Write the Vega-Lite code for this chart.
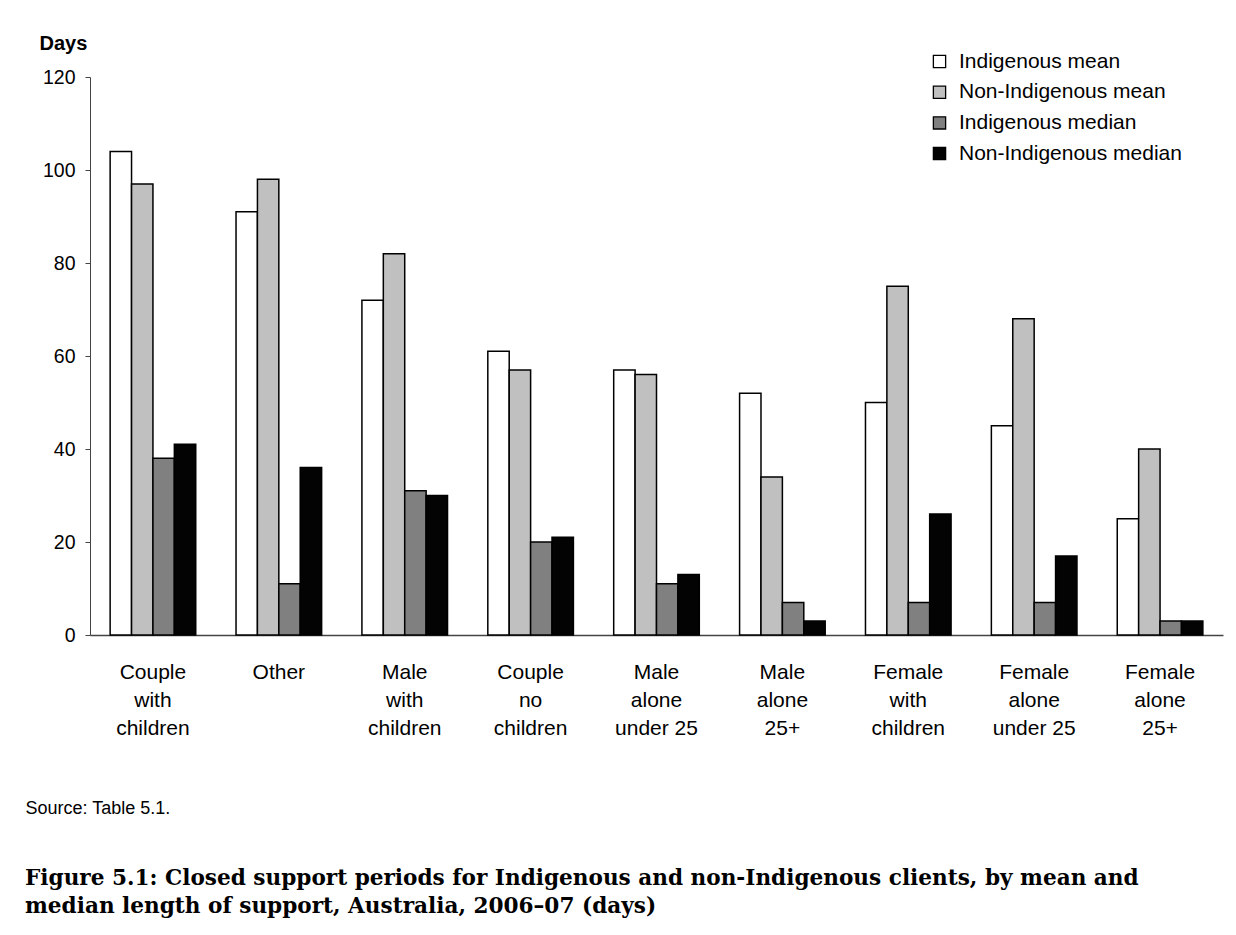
{
  "$schema": "https://vega.github.io/schema/vega-lite/v6.json",
  "width": 1133,
  "height": 558,
  "autosize": {"type": "none"},
  "padding": {"left": 90, "top": 77, "right": 13, "bottom": 300},
  "background": "white",
  "title": {
    "text": ["Figure 5.1: Closed support periods for Indigenous and non-Indigenous clients, by mean and", "median length of support, Australia, 2006–07 (days)"],
    "orient": "bottom",
    "anchor": "start",
    "frame": "group",
    "dx": -65,
    "offset": 51,
    "font": "DejaVu Serif",
    "fontSize": 21.6,
    "fontWeight": "bold",
    "color": "black",
    "lineHeight": 28
  },
  "data": {
    "values": [
      {"category": "Couple|with|children", "series": "Indigenous mean", "value": 104},
      {"category": "Couple|with|children", "series": "Non-Indigenous mean", "value": 97},
      {"category": "Couple|with|children", "series": "Indigenous median", "value": 38},
      {"category": "Couple|with|children", "series": "Non-Indigenous median", "value": 41},
      {"category": "Other", "series": "Indigenous mean", "value": 91},
      {"category": "Other", "series": "Non-Indigenous mean", "value": 98},
      {"category": "Other", "series": "Indigenous median", "value": 11},
      {"category": "Other", "series": "Non-Indigenous median", "value": 36},
      {"category": "Male|with|children", "series": "Indigenous mean", "value": 72},
      {"category": "Male|with|children", "series": "Non-Indigenous mean", "value": 82},
      {"category": "Male|with|children", "series": "Indigenous median", "value": 31},
      {"category": "Male|with|children", "series": "Non-Indigenous median", "value": 30},
      {"category": "Couple|no|children", "series": "Indigenous mean", "value": 61},
      {"category": "Couple|no|children", "series": "Non-Indigenous mean", "value": 57},
      {"category": "Couple|no|children", "series": "Indigenous median", "value": 20},
      {"category": "Couple|no|children", "series": "Non-Indigenous median", "value": 21},
      {"category": "Male|alone|under 25", "series": "Indigenous mean", "value": 57},
      {"category": "Male|alone|under 25", "series": "Non-Indigenous mean", "value": 56},
      {"category": "Male|alone|under 25", "series": "Indigenous median", "value": 11},
      {"category": "Male|alone|under 25", "series": "Non-Indigenous median", "value": 13},
      {"category": "Male|alone|25+", "series": "Indigenous mean", "value": 52},
      {"category": "Male|alone|25+", "series": "Non-Indigenous mean", "value": 34},
      {"category": "Male|alone|25+", "series": "Indigenous median", "value": 7},
      {"category": "Male|alone|25+", "series": "Non-Indigenous median", "value": 3},
      {"category": "Female|with|children", "series": "Indigenous mean", "value": 50},
      {"category": "Female|with|children", "series": "Non-Indigenous mean", "value": 75},
      {"category": "Female|with|children", "series": "Indigenous median", "value": 7},
      {"category": "Female|with|children", "series": "Non-Indigenous median", "value": 26},
      {"category": "Female|alone|under 25", "series": "Indigenous mean", "value": 45},
      {"category": "Female|alone|under 25", "series": "Non-Indigenous mean", "value": 68},
      {"category": "Female|alone|under 25", "series": "Indigenous median", "value": 7},
      {"category": "Female|alone|under 25", "series": "Non-Indigenous median", "value": 17},
      {"category": "Female|alone|25+", "series": "Indigenous mean", "value": 25},
      {"category": "Female|alone|25+", "series": "Non-Indigenous mean", "value": 40},
      {"category": "Female|alone|25+", "series": "Indigenous median", "value": 3},
      {"category": "Female|alone|25+", "series": "Non-Indigenous median", "value": 3}
    ]
  },
  "mark": {"type": "bar", "stroke": "black", "strokeWidth": 1.5},
  "encoding": {
    "x": {
      "field": "category",
      "type": "nominal",
      "sort": null,
      "scale": {"paddingInner": 0.32, "paddingOuter": 0.16},
      "axis": {
        "labelExpr": "split(datum.label, '|')",
        "labelAngle": 0,
        "labelFont": "Liberation Sans",
        "labelFontSize": 21,
        "labelColor": "black",
        "labelLineHeight": 28,
        "labelPadding": 37,
        "labelBaseline": "middle",
        "ticks": false,
        "domainColor": "#444444",
        "domainWidth": 1.5,
        "title": "Source: Table 5.1.",
        "titleFont": "Liberation Sans",
        "titleFontSize": 18,
        "titleFontWeight": "normal",
        "titleColor": "black",
        "titleAnchor": "start",
        "titleAlign": "left",
        "titleBaseline": "middle",
        "titleX": -65,
        "titleY": 173
      }
    },
    "xOffset": {
      "field": "series",
      "type": "nominal",
      "sort": ["Indigenous mean", "Non-Indigenous mean", "Indigenous median", "Non-Indigenous median"]
    },
    "y": {
      "field": "value",
      "type": "quantitative",
      "scale": {"domain": [0, 120]},
      "axis": {
        "values": [0, 20, 40, 60, 80, 100, 120],
        "grid": false,
        "tickSize": 5,
        "tickColor": "#444444",
        "domainColor": "#444444",
        "labelPadding": 10,
        "labelFont": "Liberation Sans",
        "labelFontSize": 19.5,
        "labelColor": "black",
        "title": "Days",
        "titleAngle": 0,
        "titleFont": "Liberation Sans",
        "titleFontSize": 20,
        "titleFontWeight": "bold",
        "titleColor": "black",
        "titleAlign": "left",
        "titleBaseline": "middle",
        "titleX": -51,
        "titleY": -34
      }
    },
    "fill": {
      "field": "series",
      "type": "nominal",
      "sort": ["Indigenous mean", "Non-Indigenous mean", "Indigenous median", "Non-Indigenous median"],
      "scale": {
        "domain": ["Indigenous mean", "Non-Indigenous mean", "Indigenous median", "Non-Indigenous median"],
        "range": ["#ffffff", "#c0c0c0", "#808080", "#030303"]
      },
      "legend": {
        "title": null,
        "orient": "none",
        "legendX": 839,
        "legendY": -26,
        "symbolType": "square",
        "symbolSize": 150,
        "symbolStrokeColor": "black",
        "symbolStrokeWidth": 1.3,
        "labelFont": "Liberation Sans",
        "labelFontSize": 21,
        "labelColor": "black",
        "labelOffset": 9,
        "labelLimit": 0,
        "rowPadding": 8.7
      }
    }
  },
  "config": {
    "view": {"stroke": null}
  }
}
